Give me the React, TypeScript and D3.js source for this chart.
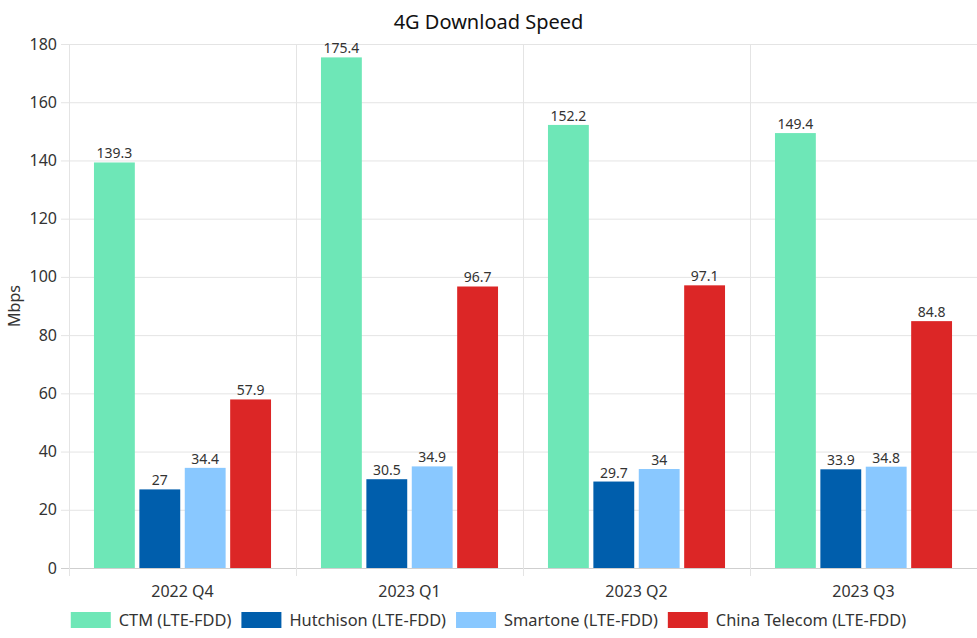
import { useEffect, useRef } from "react";
import * as d3 from "d3";

const quarters = ["2022 Q4", "2023 Q1", "2023 Q2", "2023 Q3"];
const operators = [
  "CTM (LTE-FDD)",
  "Hutchison (LTE-FDD)",
  "Smartone (LTE-FDD)",
  "China Telecom (LTE-FDD)",
];
const colors = ["#6ee7b7", "#005eac", "#89c8ff", "#dc2626"];
const ctm = [139.3, 175.4, 152.2, 149.4];
const hutchison = [27, 30.5, 29.7, 33.9];
const smartone = [34.4, 34.9, 34, 34.8];
const chinaTelecom = [57.9, 96.7, 97.1, 84.8];
const series = [ctm, hutchison, smartone, chinaTelecom];
const yTicks = [0, 20, 40, 60, 80, 100, 120, 140, 160, 180];

export default function App() {
  const svgRef = useRef<SVGSVGElement>(null);

  useEffect(() => {
    if (!svgRef.current) return;
    const svg = d3.select(svgRef.current);
    svg.selectAll("*").remove();

    const width = 977;
    const height = 638;
    const margin = { top: 44, right: 0, bottom: 70, left: 69 };
    const W = width - margin.left - margin.right;
    const H = height - margin.top - margin.bottom;
    const font = "'Noto Sans', 'Open Sans', sans-serif";
    const textColor = "#333";
    const gridColor = "#e4e4e4";

    const x0 = d3.scaleBand().domain(quarters).range([0, W]).paddingInner(0).paddingOuter(0);
    const groupPad = x0.bandwidth() * 0.1;
    const x1 = d3
      .scaleBand<number>()
      .domain(d3.range(operators.length))
      .range([groupPad, x0.bandwidth() - groupPad])
      .paddingInner(0.1)
      .paddingOuter(0.05);
    const y = d3.scaleLinear().domain([0, 180]).range([H, 0]);

    const g = svg
      .append("g")
      .attr("transform", `translate(${margin.left},${margin.top})`);

    // horizontal grid
    g.append("g")
      .selectAll("line")
      .data(yTicks)
      .join("line")
      .attr("x1", -8)
      .attr("x2", W)
      .attr("y1", (d) => y(d) + 0.5)
      .attr("y2", (d) => y(d) + 0.5)
      .attr("stroke", (d) => (d === 0 ? "#cfcfcf" : gridColor));

    // vertical grid at category edges
    const edges = quarters.map((q) => x0(q)!);
    g.append("g")
      .selectAll("line")
      .data(edges)
      .join("line")
      .attr("x1", (d) => d + 0.5)
      .attr("x2", (d) => d + 0.5)
      .attr("y1", 0)
      .attr("y2", H + 8)
      .attr("stroke", gridColor);

    // y tick labels
    g.append("g")
      .selectAll("text")
      .data(yTicks)
      .join("text")
      .attr("x", -12)
      .attr("y", (d) => y(d))
      .attr("dy", "0.35em")
      .attr("text-anchor", "end")
      .attr("font-family", font)
      .attr("font-size", 16)
      .attr("fill", textColor)
      .text((d) => d);

    // x tick labels
    g.append("g")
      .selectAll("text")
      .data(quarters)
      .join("text")
      .attr("x", (d) => x0(d)! + x0.bandwidth() / 2)
      .attr("y", H + 29)
      .attr("text-anchor", "middle")
      .attr("font-family", font)
      .attr("font-size", 16)
      .attr("fill", textColor)
      .text((d) => d);

    // bars
    const groups = g
      .append("g")
      .selectAll("g")
      .data(quarters)
      .join("g")
      .attr("transform", (d) => `translate(${x0(d)},0)`);

    groups
      .selectAll("rect")
      .data((_, qi) => series.map((s, si) => ({ si, v: s[qi] })))
      .join("rect")
      .attr("x", (d) => x1(d.si)!)
      .attr("y", (d) => y(d.v))
      .attr("width", x1.bandwidth())
      .attr("height", (d) => H - y(d.v))
      .attr("fill", (d) => colors[d.si]);

    groups
      .selectAll("text")
      .data((_, qi) => series.map((s, si) => ({ si, v: s[qi] })))
      .join("text")
      .attr("x", (d) => x1(d.si)! + x1.bandwidth() / 2)
      .attr("y", (d) => y(d.v) - 4)
      .attr("text-anchor", "middle")
      .attr("font-family", font)
      .attr("font-size", 14)
      .attr("fill", textColor)
      .text((d) => d.v);

    // title
    svg
      .append("text")
      .attr("x", width / 2)
      .attr("y", 29)
      .attr("text-anchor", "middle")
      .attr("font-family", font)
      .attr("font-size", 20)
      .attr("fill", "#111")
      .text("4G Download Speed");

    // y axis title
    svg
      .append("text")
      .attr("transform", `translate(20,${margin.top + H / 2}) rotate(-90)`)
      .attr("text-anchor", "middle")
      .attr("font-family", font)
      .attr("font-size", 16)
      .attr("fill", textColor)
      .text("Mbps");

    // legend
    const legend = svg.append("g").attr("transform", `translate(0,612)`);
    const items = legend
      .selectAll("g")
      .data(operators)
      .join("g");
    items
      .append("rect")
      .attr("width", 40)
      .attr("height", 16)
      .attr("fill", (_, i) => colors[i]);
    items
      .append("text")
      .attr("x", 48)
      .attr("y", 8)
      .attr("dy", "0.35em")
      .attr("font-family", font)
      .attr("font-size", 16.4)
      .attr("fill", textColor)
      .text((d) => d);
    const widths: number[] = [];
    items.each(function () {
      const t = (this as SVGGElement).querySelector("text") as SVGTextElement;
      widths.push(48 + t.getComputedTextLength());
    });
    const gap = 10;
    const total = d3.sum(widths) + gap * (widths.length - 1);
    let cx = (width - total) / 2;
    items.attr("transform", (_, i) => {
      const pos = cx;
      cx += widths[i] + gap;
      return `translate(${pos},0)`;
    });
  }, []);

  return (
    <svg
      ref={svgRef}
      width={977}
      height={638}
      viewBox="0 0 977 638"
      style={{ position: "absolute", left: 0, top: 0, background: "#fff" }}
    />
  );
}
